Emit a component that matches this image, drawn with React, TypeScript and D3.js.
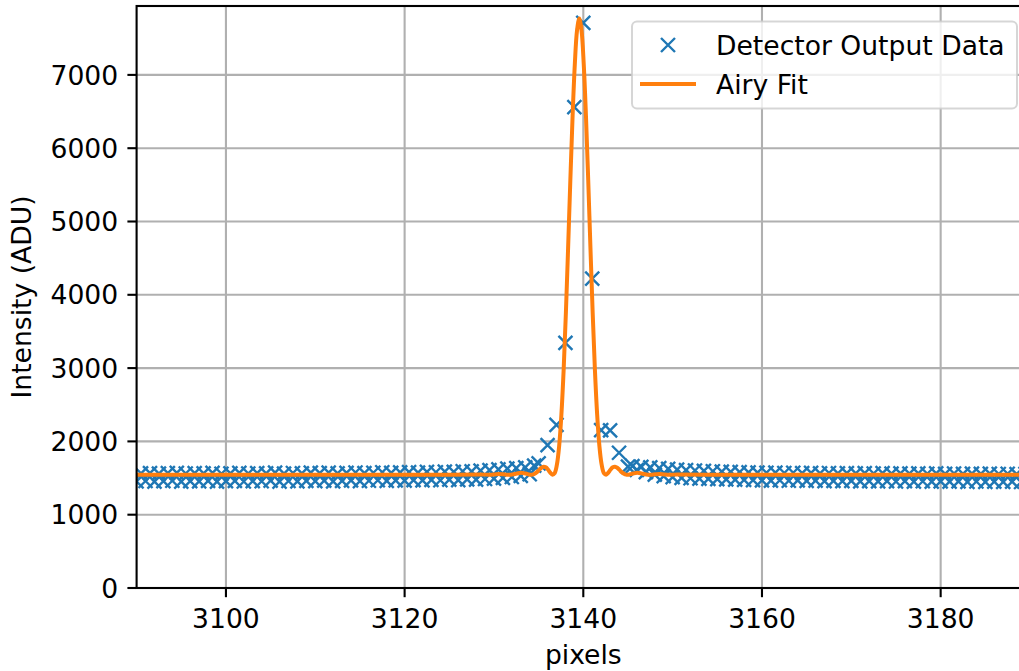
import React from 'react';
import * as d3 from 'd3';

// Detector row around the emission line: [pixel, intensity in ADU]
const baselineLeft: [number, number][] = [
  [3090, 1454], [3090.5, 1563], [3091, 1460], [3091.5, 1568], [3092, 1451], [3092.5, 1560],
  [3093, 1457], [3093.5, 1566], [3094, 1463], [3094.5, 1571], [3095, 1452], [3095.5, 1562],
  [3096, 1458], [3096.5, 1567], [3097, 1455], [3097.5, 1564], [3098, 1461], [3098.5, 1570],
  [3099, 1450], [3099.5, 1559], [3100, 1457], [3100.5, 1565], [3101, 1462], [3101.5, 1571],
  [3102, 1453], [3102.5, 1562], [3103, 1459], [3103.5, 1568], [3104, 1456], [3104.5, 1564],
  [3105, 1464], [3105.5, 1573], [3106, 1452], [3106.5, 1561], [3107, 1460], [3107.5, 1569],
  [3108, 1455], [3108.5, 1565], [3109, 1462], [3109.5, 1575], [3110, 1458], [3110.5, 1567],
  [3111, 1465], [3111.5, 1574], [3112, 1454], [3112.5, 1563], [3113, 1461], [3113.5, 1570],
  [3114, 1467], [3114.5, 1576], [3115, 1459], [3115.5, 1568], [3116, 1463], [3116.5, 1572],
  [3117, 1470], [3117.5, 1579], [3118, 1461], [3118.5, 1571], [3119, 1468], [3119.5, 1577],
  [3120, 1464], [3120.5, 1581], [3121, 1472], [3121.5, 1575], [3122, 1468], [3122.5, 1585],
  [3123, 1476], [3123.5, 1579], [3124, 1470], [3124.5, 1589], [3125, 1479], [3125.5, 1584],
  [3126, 1473], [3126.5, 1593], [3127, 1482], [3127.5, 1590], [3128, 1478], [3128.5, 1600],
  [3129, 1487], [3129.5, 1608], [3130, 1492], [3130.5, 1618], [3131, 1502], [3131.5, 1628],
  [3132, 1514], [3132.5, 1636], [3133, 1530], [3133.5, 1645], [3134, 1552], [3134.5, 1670],
];

const peakSamples: [number, number][] = [
  [3135, 1700], [3136, 1950], [3137, 2225], [3138, 3345], [3139, 6560], [3140, 7710],
  [3141, 4220], [3142, 2155], [3143, 2150], [3144, 1845], [3145, 1655],
];

const baselineRight: [number, number][] = [
  [3145.5, 1662], [3146, 1612], [3146.5, 1652], [3147, 1580], [3147.5, 1645], [3148, 1548],
  [3148.5, 1636], [3149, 1527], [3149.5, 1625], [3150, 1512], [3150.5, 1616], [3151, 1503],
  [3151.5, 1608], [3152, 1497], [3152.5, 1603], [3153, 1492], [3153.5, 1598], [3154, 1488],
  [3154.5, 1593], [3155, 1484], [3155.5, 1589], [3156, 1481], [3156.5, 1585], [3157, 1478],
  [3157.5, 1582], [3158, 1475], [3158.5, 1578], [3159, 1472], [3159.5, 1575], [3160, 1469],
  [3160.5, 1572], [3161, 1466], [3161.5, 1574], [3162, 1470], [3162.5, 1569], [3163, 1463],
  [3163.5, 1572], [3164, 1467], [3164.5, 1567], [3165, 1461], [3165.5, 1570], [3166, 1465],
  [3166.5, 1565], [3167, 1459], [3167.5, 1569], [3168, 1462], [3168.5, 1564], [3169, 1457],
  [3169.5, 1568], [3170, 1461], [3170.5, 1563], [3171, 1455], [3171.5, 1567], [3172, 1459],
  [3172.5, 1562], [3173, 1454], [3173.5, 1566], [3174, 1458], [3174.5, 1561], [3175, 1453],
  [3175.5, 1565], [3176, 1457], [3176.5, 1560], [3177, 1452], [3177.5, 1564], [3178, 1456],
  [3178.5, 1559], [3179, 1451], [3179.5, 1563], [3180, 1455], [3180.5, 1558], [3181, 1450],
  [3181.5, 1562], [3182, 1454], [3182.5, 1557], [3183, 1449], [3183.5, 1561], [3184, 1453],
  [3184.5, 1556], [3185, 1448], [3185.5, 1560], [3186, 1452], [3186.5, 1555], [3187, 1447],
  [3187.5, 1559], [3188, 1451], [3188.5, 1554], [3189, 1446], [3189.5, 1558], [3190, 1450],
];

// Fitted Airy profile sampled along the row: [pixel, intensity in ADU]
const airyFit: [number, number][] = [
  [3090, 1545], [3110, 1545], [3125, 1546], [3128.55, 1548], [3129.55, 1546], [3130.05, 1550],
  [3130.55, 1555], [3131.05, 1551], [3131.55, 1545], [3132.05, 1548], [3132.55, 1561],
  [3133.05, 1571], [3133.55, 1561], [3134.05, 1546], [3134.3, 1547], [3134.55, 1560],
  [3134.8, 1581], [3135.05, 1612], [3135.3, 1640], [3135.55, 1653], [3135.8, 1646],
  [3136.05, 1616], [3136.3, 1574], [3136.55, 1546], [3136.8, 1568], [3137.05, 1685],
  [3137.3, 1940], [3137.55, 2368], [3137.8, 2976], [3138.05, 3752], [3138.3, 4640],
  [3138.55, 5566], [3138.8, 6433], [3139.05, 7143], [3139.3, 7608], [3139.55, 7770],
  [3139.8, 7608], [3140.05, 7143], [3140.3, 6433], [3140.55, 5566], [3140.8, 4640],
  [3141.05, 3752], [3141.3, 2976], [3141.55, 2368], [3141.8, 1940], [3142.05, 1685],
  [3142.3, 1568], [3142.55, 1546], [3142.8, 1574], [3143.05, 1616], [3143.3, 1646],
  [3143.55, 1653], [3143.8, 1640], [3144.05, 1612], [3144.3, 1581], [3144.55, 1560],
  [3144.8, 1547], [3145.05, 1546], [3145.55, 1561], [3146.05, 1571], [3146.55, 1561],
  [3147.05, 1548], [3147.55, 1545], [3148.05, 1551], [3148.55, 1555], [3149.05, 1550],
  [3149.55, 1546], [3150.55, 1548], [3154, 1546], [3170, 1545], [3190, 1545],
];

const xTicks = [3100, 3120, 3140, 3160, 3180];
const yTicks = [0, 1000, 2000, 3000, 4000, 5000, 6000, 7000];
const xDomain: [number, number] = [3090, 3190];
const yDomain: [number, number] = [0, 7940];

const seriesLabels = ['Detector Output Data', 'Airy Fit'];

const BLUE = '#1f77b4';
const ORANGE = '#ff7f0e';
const GRID = '#b0b0b0';
const FONT = '"DejaVu Sans", sans-serif';
const FS = 26.6;

const plot = { left: 136.6, right: 1030, top: 6, bottom: 588 };

function Cross({ cx, cy, h = 7 }: { cx: number; cy: number; h?: number }) {
  return (
    <path
      d={`M${cx - h},${cy - h}L${cx + h},${cy + h}M${cx - h},${cy + h}L${cx + h},${cy - h}`}
      stroke={BLUE}
      strokeWidth={2.4}
      fill="none"
    />
  );
}

export default function App() {
  const x = d3.scaleLinear().domain(xDomain).range([plot.left, plot.right]);
  const y = d3.scaleLinear().domain(yDomain).range([plot.bottom, plot.top]);

  const fitPath = d3
    .line<[number, number]>()
    .x((d) => x(d[0]))
    .y((d) => y(d[1]))
    .curve(d3.curveCatmullRom.alpha(0.5))(airyFit) as string;

  const points = [...baselineLeft, ...peakSamples, ...baselineRight];

  return (
    <svg
      width={1019}
      height={671}
      style={{ position: 'absolute', left: 0, top: 0, background: '#fff' }}
      fontFamily={FONT}
    >
      <defs>
        <clipPath id="plot-area">
          <rect x={plot.left} y={plot.top} width={plot.right - plot.left} height={plot.bottom - plot.top} />
        </clipPath>
      </defs>
      <rect x={0} y={0} width={1019} height={671} fill="#fff" />

      {/* grid */}
      <g stroke={GRID} strokeWidth={2.1}>
        {xTicks.map((t) => (
          <line key={'gx' + t} x1={x(t)} x2={x(t)} y1={plot.top} y2={plot.bottom} />
        ))}
        {yTicks.map((t) => (
          <line key={'gy' + t} x1={plot.left} x2={plot.right} y1={y(t)} y2={y(t)} />
        ))}
      </g>

      {/* measured samples and fitted profile */}
      <g clipPath="url(#plot-area)">
        {points.map((d, i) => (
          <Cross key={i} cx={x(d[0])} cy={y(d[1])} />
        ))}
        <path d={fitPath} fill="none" stroke={ORANGE} strokeWidth={4} strokeLinejoin="round" strokeLinecap="square" />
      </g>

      {/* spines */}
      <g stroke="#000" strokeWidth={2.1} fill="none">
        <rect x={plot.left} y={plot.top} width={plot.right - plot.left} height={plot.bottom - plot.top} />
      </g>

      {/* ticks and axis labels */}
      <g fontSize={FS} fill="#000">
        {xTicks.map((t) => (
          <g key={'tx' + t}>
            <line x1={x(t)} x2={x(t)} y1={plot.bottom} y2={plot.bottom + 9.2} stroke="#000" strokeWidth={2.1} />
            <text x={x(t)} y={plot.bottom + 39.5} textAnchor="middle">
              {t}
            </text>
          </g>
        ))}
        {yTicks.map((t) => (
          <g key={'ty' + t}>
            <line x1={plot.left - 9.2} x2={plot.left} y1={y(t)} y2={y(t)} stroke="#000" strokeWidth={2.1} />
            <text x={plot.left - 18.4} y={y(t) + 9.6} textAnchor="end">
              {t}
            </text>
          </g>
        ))}
        <text x={(plot.left + plot.right) / 2} y={664} textAnchor="middle">
          pixels
        </text>
        <text transform={`translate(31,${(plot.top + plot.bottom) / 2}) rotate(-90)`} textAnchor="middle">
          Intensity (ADU)
        </text>
      </g>

      {/* legend */}
      <g>
        <rect x={632} y={21.5} width={385} height={87} rx={5} fill="#fff" fillOpacity={0.8} stroke="#cccccc" strokeOpacity={0.8} strokeWidth={2} />
        <Cross cx={668} cy={45} />
        <text x={716} y={54.5} fontSize={FS}>
          {seriesLabels[0]}
        </text>
        <line x1={640} x2={696} y1={84} y2={84} stroke={ORANGE} strokeWidth={4} />
        <text x={716} y={93.5} fontSize={FS}>
          {seriesLabels[1]}
        </text>
      </g>
    </svg>
  );
}
